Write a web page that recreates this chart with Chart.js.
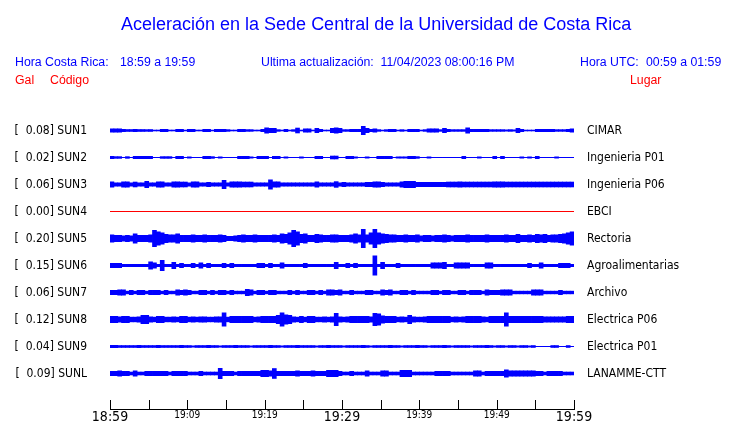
<!DOCTYPE html>
<html>
<head>
<meta charset="utf-8">
<script src="https://cdn.jsdelivr.net/npm/chart.js@4"></script>
<style>
  body { margin: 0; background: #fff; }
  #wrap { position: absolute; left: 0; top: 0; width: 740px; height: 423px; }
  .txt { position: absolute; white-space: pre; font-family: 'Liberation Sans', Arial, sans-serif; font-size: 12.3px; line-height: 12px; color: #0000ff; }
  .red { color: #ff0000; }
  #title { font-size: 18px; line-height: 18px; left: 121px; top: 15px; }
</style>
</head>
<body>
<div id="wrap"><canvas id="seis-chart"></canvas></div>
<div class="txt" id="title">Aceleración en la Sede Central de la Universidad de Costa Rica</div>
<div class="txt" style="left:15px; top:55.5px;">Hora Costa Rica:</div>
<div class="txt" style="left:120px; top:55.5px;">18:59 a 19:59</div>
<div class="txt" style="left:261px; top:55.5px;">Ultima actualización:  11/04/2023 08:00:16 PM</div>
<div class="txt" style="left:580px; top:55.5px;">Hora UTC:</div>
<div class="txt" style="left:646px; top:55.5px;">00:59 a 01:59</div>
<div class="txt red" style="left:15px; top:74px;">Gal</div>
<div class="txt red" style="left:50px; top:74px;">Código</div>
<div class="txt red" style="left:630px; top:74px;">Lugar</div>
<script>
// station info
const codes = ['SUN1', 'SUN2', 'SUN3', 'SUN4', 'SUN5', 'SUN6', 'SUN7', 'SUN8', 'SUN9', 'SUNL'];
const peakGal = [0.08, 0.02, 0.06, 0.00, 0.20, 0.15, 0.06, 0.12, 0.04, 0.09];
const places = ['CIMAR', 'Ingenieria P01', 'Ingenieria P06', 'EBCI', 'Rectoria', 'Agroalimentarias', 'Archivo', 'Electrica P06', 'Electrica P01', 'LANAMME-CTT'];

// x axis ticks every 5 min (18:59 -> 19:59)
const tickLabels = ['18:59', '', '19:09', '', '19:19', '', '19:29', '', '19:39', '', '19:49', '', '19:59'];

// trace envelopes, half height, one value per 30 s
const ampSUN1 = [
  2, 2, 2, 1.5, 1.3, 1.3, 1.5, 1.3, 1.3, 1.2,
  1.3, 0.8, 0.8, 1.5, 1.5, 0.8, 0.8, 1.5, 1.5, 0.8,
  1.5, 1.5, 0.8, 0.8, 1.5, 1.5, 0.8, 1.5, 1.5, 1.5,
  1.2, 0.8, 0.8, 1.5, 1.5, 1.2, 1.2, 0.8, 0.8, 1.5,
  3, 2.5, 2.5, 1.2, 0.8, 1.5, 0.8, 1.2, 2.8, 0.8,
  2, 2, 0.8, 2.5, 1.5, 0.8, 0.8, 2.5, 3, 2.5,
  1.2, 1.2, 1.5, 1.5, 1.5, 4.5, 2.5, 1.5, 2, 1.2,
  0.8, 1.2, 1.5, 1.5, 0.8, 1.2, 0.8, 1.5, 1.5, 1.5,
  0.8, 1.2, 2, 2, 2, 1.2, 2.5, 1.5, 1.2, 1.2,
  1.2, 1.2, 3, 1.5, 1.5, 1.5, 1.5, 1.5, 1.2, 1.2,
  1.2, 1.2, 1, 1.2, 1, 2.5, 1.5, 0.8, 0.8, 0.8,
  1.5, 1.5, 1.5, 1.5, 1.5, 1.2, 1.2, 1.2, 1.5, 2
];
const ampSUN2 = [
  1.5, 1.2, 1.2, 0.5, 1.2, 0.5, 1.5, 1.5, 1.5, 1.5,
  1.5, 0.5, 0.5, 1.2, 1.2, 1.2, 0.5, 1.5, 1.5, 0.5,
  1, 0.5, 0.5, 0.5, 1.5, 1.5, 1.2, 0.5, 1, 0.5,
  0.5, 0.5, 0.5, 1.5, 1.5, 1.5, 1, 0.5, 1.5, 1.5,
  1.5, 0.5, 1.5, 1.5, 0.5, 1, 0.5, 0.5, 0.5, 1,
  0.5, 0.5, 0.5, 1.5, 1.5, 0.5, 0.5, 1.8, 1.8, 0.5,
  0.5, 1.5, 1.5, 1, 0.5, 0.5, 1, 0.5, 0.5, 1.5,
  1.5, 1.5, 1.5, 0.5, 1, 1, 1, 1.5, 1.5, 1.2,
  0.5, 0.5, 1, 0.5, 0.5, 0.5, 0.5, 0.5, 0.5, 0.5,
  0.5, 1.5, 0.5, 0.5, 0.5, 1, 0.5, 0.5, 0.5, 1.5,
  0.5, 1.5, 0.5, 0.5, 0.5, 0.5, 1, 0.5, 1, 0.5,
  1.5, 0.5, 0.5, 0.5, 0.5, 1, 0.5, 0.5, 0.5, 0.5
];
const ampSUN3 = [
  3, 2, 2, 3, 3, 2, 2.8, 2, 2, 3.5,
  2, 2, 3, 3, 2, 2, 3, 3, 2.8, 2.8,
  2, 3, 3, 2, 2, 2.5, 2, 2, 2, 4.5,
  2, 3, 3, 3, 2.8, 2.8, 2.8, 2, 2, 2,
  2, 5, 3, 3, 2, 2, 2, 2, 2, 2,
  2, 2, 2, 3, 2, 2, 2, 2, 3.2, 2,
  2.5, 2, 2, 2, 2, 2, 2.5, 2.5, 3, 3,
  2.5, 2, 2, 2, 2, 3, 3.5, 3.5, 3.5, 2.5,
  2.5, 2.5, 2.5, 2.5, 2.5, 2.5, 2.5, 2.8, 2.8, 2.8,
  3, 2.8, 2.8, 2.8, 2.8, 2.8, 2.8, 2.8, 2.8, 3,
  3, 3, 2.8, 2.8, 2.8, 2.8, 2.8, 2.8, 2.8, 2.8,
  2.8, 2.8, 2.8, 2.8, 2.8, 2.8, 2.8, 2.8, 2.8, 2.8
];
const ampSUN4 = [
  0, 0, 0, 0, 0, 0, 0, 0, 0, 0, 0, 0, 0, 0, 0, 0, 0, 0, 0, 0,
  0, 0, 0, 0, 0, 0, 0, 0, 0, 0, 0, 0, 0, 0, 0, 0, 0, 0, 0, 0,
  0, 0, 0, 0, 0, 0, 0, 0, 0, 0, 0, 0, 0, 0, 0, 0, 0, 0, 0, 0,
  0, 0, 0, 0, 0, 0, 0, 0, 0, 0, 0, 0, 0, 0, 0, 0, 0, 0, 0, 0,
  0, 0, 0, 0, 0, 0, 0, 0, 0, 0, 0, 0, 0, 0, 0, 0, 0, 0, 0, 0,
  0, 0, 0, 0, 0, 0, 0, 0, 0, 0, 0, 0, 0, 0, 0, 0, 0, 0, 0, 0
];
const ampSUN5 = [
  4, 3.5, 3.5, 3, 3.5, 3, 5, 3.5, 3.5, 3.5,
  4, 8.5, 7, 6, 4.5, 4, 4, 5, 3.5, 3.5,
  3.5, 4, 3.5, 3.5, 4, 3.5, 3.5, 3.5, 4, 3.5,
  2.5, 2.5, 3, 3.5, 4, 3.5, 3.5, 4, 3.5, 3.5,
  3.5, 3.5, 4, 3.5, 5, 4.5, 6, 8.5, 7, 4.5,
  5, 3.5, 3.5, 4.5, 4, 3.5, 3.5, 4, 4, 3.5,
  3.5, 3.5, 4, 5, 4, 9.5, 4, 6, 9.5, 6,
  5, 4.5, 4, 4, 3.5, 3.5, 4, 3.5, 3.5, 4,
  3, 3.5, 3.5, 3, 3.5, 3.5, 4, 3.5, 3, 3.5,
  3.5, 3.5, 4, 3.5, 3.5, 3.5, 3.5, 4, 3.5, 3.5,
  3.5, 3.5, 4, 3.5, 3.5, 4.5, 3.5, 3.5, 4, 3.5,
  4.5, 4, 4.5, 3.5, 4, 4, 4.5, 5, 6, 7
];
const ampSUN6 = [
  2.5, 2.5, 2.5, 1.5, 1.5, 1.5, 1.5, 1.5, 1.5, 1.5,
  4, 3, 1.5, 5.5, 1.5, 1.5, 3.5, 1.5, 2.5, 1.5,
  1.5, 2.5, 1.5, 3, 1.5, 2.5, 1.5, 1.5, 1.5, 2.5,
  1.5, 2.5, 1.5, 1.5, 1.5, 1.5, 1.5, 1.5, 2.5, 2.5,
  1.5, 2.5, 1.5, 1.5, 3, 1.5, 1.5, 1.5, 1.5, 1.5,
  2.5, 1.5, 1.5, 1.5, 1.5, 1.5, 1.5, 1.5, 3.5, 1.5,
  1.5, 2.5, 1.5, 2.5, 1.5, 1.5, 1.5, 1.5, 10, 1.5,
  3.5, 1.5, 1.5, 1.5, 2.5, 1.5, 1.5, 1.5, 1.5, 1.5,
  1.5, 1.5, 1.5, 3, 3, 3, 3.5, 1.5, 1.5, 3,
  3, 3, 3, 1.5, 1.5, 1.5, 1.5, 3, 3, 1.5,
  1.5, 1.5, 1.5, 1.5, 1.5, 1.5, 1.5, 1.5, 2.5, 1.5,
  1.5, 3, 1.5, 1.5, 1.5, 1.5, 2.5, 2.5, 2.5, 1.5
];
const ampSUN7 = [
  2.5, 2.5, 3, 3, 1.7, 2.5, 1.7, 2.5, 2.5, 1.7,
  2.5, 2.5, 2.5, 1.7, 2.5, 1.7, 1.7, 3, 2.5, 3,
  2.5, 1.7, 1.7, 2.5, 2.5, 1.7, 2.5, 1.7, 2.5, 2.5,
  1.7, 2.5, 1.7, 1.7, 1.7, 3.5, 3, 1.7, 2.5, 2.5,
  1.7, 2.5, 2.5, 1.7, 1.7, 1.7, 2.5, 1.7, 2.5, 1.7,
  1.7, 2.5, 2.5, 1.7, 2.5, 1.7, 3, 3, 2.5, 3,
  1.7, 1.7, 2.5, 1.7, 1.7, 1.7, 2.5, 2.5, 1.7, 1.7,
  3, 2.5, 3, 1.7, 1.7, 2.5, 2.5, 1.7, 2.5, 1.7,
  1.7, 1.7, 1.7, 2.5, 2.5, 1.7, 2.5, 2.5, 1.7, 1.7,
  2.5, 2.5, 1.7, 2.5, 2.5, 2.5, 1.7, 3, 2.5, 2.5,
  2.5, 3, 3, 3, 1.7, 1.7, 1.7, 1.7, 1.7, 3,
  3, 3, 1.7, 1.7, 1.7, 1.7, 2.5, 1.7, 1.7, 1.7
];
const ampSUN8 = [
  3.5, 3.5, 3, 3.5, 3.5, 2.7, 2.7, 3, 4.5, 4.5,
  3, 2.7, 3.5, 3.5, 2.7, 2.7, 3, 2.7, 3.5, 3.5,
  2.7, 3, 2.7, 3, 3, 2.7, 2.7, 3, 3, 7,
  2.7, 3.5, 3.5, 3.5, 3.5, 3.5, 3.5, 2.7, 3, 3.5,
  3.5, 3.5, 3.5, 4.5, 7, 5, 4.5, 3, 2.7, 3.5,
  2.7, 3.5, 3.5, 2.7, 2.7, 3, 2.7, 3, 6.5, 3,
  2.7, 3, 3.5, 3.5, 3.5, 3.5, 3.5, 3, 6.5, 6,
  4, 3.5, 3.5, 3.5, 2.7, 3, 2.7, 4.5, 3, 2.7,
  2.7, 3, 3.5, 3.5, 3.5, 3.5, 3.5, 3.5, 2.7, 3,
  2.7, 3, 3.5, 3.5, 3.5, 3.5, 3, 2.7, 3.5, 3.5,
  3.5, 3.5, 7, 3.5, 3.5, 3.5, 3.5, 3.5, 3.5, 3.5,
  3.5, 3.5, 3, 3, 3, 3, 3, 3, 3.5, 3.5
];
const ampSUN9 = [
  1.5, 1.5, 1.3, 1.3, 1.3, 1.3, 1.3, 1.5, 1.3, 1.3,
  1.3, 1.3, 1.5, 1.3, 1.3, 1.3, 1.3, 1.3, 1.5, 1.3,
  1.3, 1, 1.3, 1.3, 1.3, 1.5, 1.3, 1.3, 1, 1.3,
  1.3, 1.3, 1.5, 1.3, 1.3, 1.3, 1, 1.3, 1.3, 1.3,
  1.3, 1.5, 1.3, 1.3, 1, 1.3, 1.3, 1.3, 1.5, 1.3,
  1.3, 1.3, 1.3, 1, 1.3, 1.3, 1.5, 1.3, 1.3, 1.3,
  1, 1.3, 1.3, 1.3, 1.3, 1.5, 1.3, 1, 1.3, 1.3,
  1.3, 1.3, 1.5, 1.3, 1.3, 1, 1.3, 1.3, 1.3, 1.5,
  1.3, 1.3, 1, 1.3, 1.3, 1.3, 1.5, 1.3, 1, 1.3,
  1.3, 1.3, 1.3, 1, 1.3, 1.3, 1.3, 1.5, 1.3, 1,
  1.3, 1.3, 1, 1.3, 1.3, 1, 1.3, 1.3, 1, 1.3,
  0.5, 0.5, 0.5, 0.5, 1.3, 1.3, 0.5, 0.5, 1.3, 0.5
];
const ampSUNL = [
  2.5, 2.5, 3, 2.5, 2.5, 1.8, 3, 1.8, 1.8, 2.5,
  2.5, 2.5, 2.5, 2.5, 2.5, 1.8, 2.5, 2.5, 2.5, 2.5,
  1.8, 1.8, 1.8, 2.5, 1.8, 1.8, 1.8, 1.8, 5.5, 2.5,
  2.5, 2.5, 1.8, 2.5, 2.5, 2.5, 2.5, 2.5, 2.5, 3.5,
  3.5, 3, 5.3, 2.5, 2.5, 2.5, 2.5, 2.5, 3, 2.5,
  2.5, 2.5, 3, 2.5, 2.5, 2.5, 3.5, 3.5, 3.5, 2.5,
  1.8, 1.8, 2.5, 1.8, 1.8, 1.8, 3, 1.8, 1.8, 1.8,
  3, 3, 1.8, 1.8, 1.8, 3.5, 3.5, 3.5, 1.8, 1.8,
  1.8, 1.8, 1.8, 1.8, 2.5, 2.5, 2.5, 2.5, 1.8, 1.8,
  1.8, 1.8, 1.8, 1.8, 3, 3, 1.8, 2.5, 2.5, 2.5,
  2.5, 2.5, 4, 3, 3, 3, 3, 3, 3, 3,
  2.5, 2.5, 1.8, 2.5, 2.5, 2.5, 2.5, 1.8, 1.8, 1.8
];

const traces = [ampSUN1, ampSUN2, ampSUN3, ampSUN4, ampSUN5, ampSUN6, ampSUN7, ampSUN8, ampSUN9, ampSUNL];

// every trace gets 27 px of room, y axis is in pixels from the top of the plot
const rowGap = 27;
const bases = codes.map((c, k) => rowGap * (k + 1) + 0.5);
const binMinutes = ampSUN1.map((a, i) => (i + 0.5) * 0.5);

const datasets = traces.map((amps, k) => ({
    label: codes[k],
    // at least one pixel row so a flat trace still shows
    data: amps.map((a, i) => ({ x: binMinutes[i], y: [bases[k] - Math.max(a, 0.5), bases[k] + Math.max(a, 0.5)] })),
    backgroundColor: codes[k] === 'SUN4' ? '#ff0000' : '#0000ff',
    borderWidth: 0,
    grouped: false,
    barPercentage: 1.2, // a bit of overlap so no seams show
    categoryPercentage: 1
}));

// tick marks pointing up into the plot
const upTicks = {
    id: 'upTicks',
    afterDraw(chart) {
        const xs = chart.scales.x;
        const c = chart.ctx;
        const bottom = chart.chartArea.bottom;
        c.save();
        c.strokeStyle = '#000';
        c.lineWidth = 1;
        c.beginPath();
        xs.ticks.forEach(t => {
            const px = Math.round(xs.getPixelForValue(t.value)) + 0.5;
            c.moveTo(px, bottom - 9);
            c.lineTo(px, bottom);
        });
        c.stroke();
        c.restore();
    }
};

const labelFont = "'DejaVu Sans Condensed', 'DejaVu Sans', sans-serif";

// fixed size for a side axis, and no extra room for its end labels
const fixSide = w => s => { s.width = w; s.paddingTop = 0; s.paddingBottom = 0; };

const chart = new Chart(document.getElementById('seis-chart'), {
type: 'bar',
data: { datasets: datasets },
plugins: [upTicks],
options: {
    responsive: true,
    maintainAspectRatio: false,
    animation: false,
    layout: { padding: { top: 103, left: 0, right: 0, bottom: 0 } },
    plugins: {
        legend: { display: false },
        tooltip: { enabled: false }
    },
    scales: {
    x: {
        type: 'linear',
        offset: false,
        min: 0,
        max: 60,
        afterFit: s => { s.height = 14; s.paddingLeft = 0; s.paddingRight = 0; },
        afterBuildTicks: s => { s.ticks = tickLabels.map((l, i) => ({ value: i * 5 })); },
        grid: { display: false, drawTicks: false },
        border: { display: true, color: '#000', width: 1 },
        ticks: {
            autoSkip: false,
            maxRotation: 0,
            padding: 0,
            color: '#000',
            callback: (v, i) => tickLabels[i],
            font: ctx => ({ family: labelFont, size: (ctx.index % 6 === 0) ? 14 : 10 })
        }
    },
    y: {
        type: 'linear',
        position: 'left',
        reverse: true,
        min: 0,
        max: 306,
        afterFit: fixSide(110),
        afterBuildTicks: s => { s.ticks = bases.map(v => ({ value: v })); },
        grid: { display: false, drawTicks: false },
        border: { display: false },
        ticks: {
            autoSkip: false,
            padding: 23,
            color: '#000',
            font: { family: labelFont, size: 12 },
            callback: (v, i) => '[  ' + peakGal[i].toFixed(2) + '] ' + codes[i]
        }
    },
    yR: {
        type: 'linear',
        position: 'right',
        reverse: true,
        min: 0,
        max: 306,
        afterFit: fixSide(166),
        afterBuildTicks: s => { s.ticks = bases.map(v => ({ value: v })); },
        grid: { display: false, drawTicks: false },
        border: { display: false },
        ticks: {
            autoSkip: false,
            padding: 13,
            color: '#000',
            font: { family: labelFont, size: 12 },
            callback: (v, i) => places[i]
        }
    }
    }
}
});
</script>
</body>
</html>
